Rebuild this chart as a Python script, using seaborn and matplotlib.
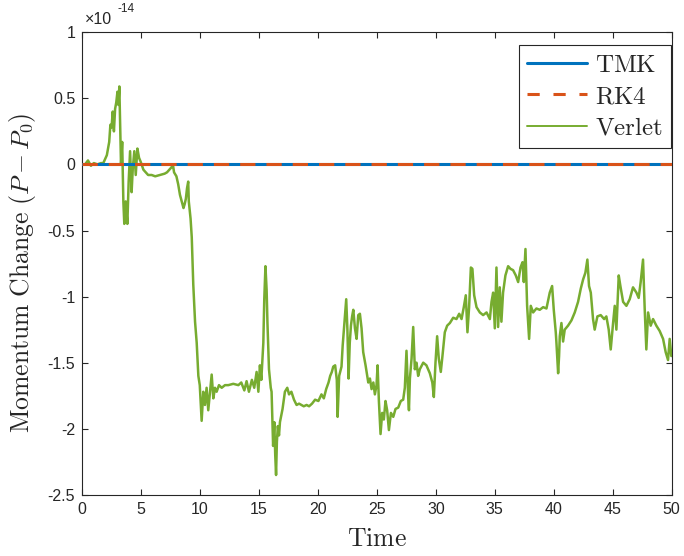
import matplotlib
matplotlib.use("Agg")
import numpy as np
import pandas as pd
import seaborn as sns
import matplotlib.pyplot as plt
from matplotlib.ticker import FuncFormatter
from matplotlib.lines import Line2D

# Momentum drift of three integrators, in units of 1e-14
time_ref = [0.0, 50.0]
tmk = [0.0, 0.0]
rk4 = [0.0, 0.0]

verlet_t = [
    0.0, 0.25, 0.5, 0.75, 1.0, 1.3, 1.6, 1.8, 2.1, 2.3, 2.4, 2.5, 2.6, 2.7, 2.8, 2.9,
    3.0, 3.08, 3.16, 3.2, 3.3, 3.4, 3.5, 3.58, 3.64, 3.7, 3.78, 3.84, 3.95, 4.07, 4.13,
    4.2, 4.3, 4.43, 4.55, 4.69, 4.83, 4.97, 5.2, 5.4, 5.6, 5.9, 6.2, 6.6, 7.0, 7.2, 7.4,
    7.6, 7.7, 7.8, 8.0, 8.15, 8.3, 8.45, 8.6, 8.7, 8.8, 8.9, 9.0, 9.05, 9.2, 9.3, 9.43,
    9.58, 9.72, 9.86, 9.98, 10.14, 10.28, 10.42, 10.56, 10.7, 10.85, 10.99, 11.13, 11.27,
    11.41, 11.61, 11.84, 12.12, 12.4, 12.82, 13.25, 13.5, 13.76, 13.95, 14.15, 14.4, 14.6,
    14.8, 14.95, 15.08, 15.2, 15.37, 15.45, 15.55, 15.65, 15.72, 15.85, 16.0, 16.07, 16.13,
    16.2, 16.3, 16.38, 16.45, 16.52, 16.6, 16.7, 16.78, 17.0, 17.2, 17.4, 17.55, 17.75,
    17.97, 18.19, 18.4, 18.6, 18.8, 19.04, 19.25, 19.5, 19.76, 20.04, 20.3, 20.5, 20.7,
    20.9, 21.04, 21.18, 21.3, 21.46, 21.6, 21.67, 21.8, 22.0, 22.1, 22.25, 22.4, 22.5,
    22.6, 22.7, 22.8, 22.9, 23.0, 23.14, 23.28, 23.42, 23.56, 23.7, 23.84, 24.04, 24.27,
    24.41, 24.55, 24.7, 24.83, 24.97, 25.06, 25.17, 25.31, 25.45, 25.59, 25.73, 25.87,
    26.02, 26.19, 26.39, 26.58, 26.81, 27.03, 27.23, 27.37, 27.51, 27.66, 27.72, 27.8,
    27.94, 28.08, 28.22, 28.36, 28.5, 28.64, 28.93, 29.2, 29.49, 29.7, 29.83, 29.97,
    30.11, 30.25, 30.42, 30.56, 30.7, 30.76, 30.96, 31.19, 31.47, 31.75, 31.98, 32.18,
    32.37, 32.54, 32.68, 32.82, 32.97, 33.1, 33.25, 33.45, 33.73, 34.01, 34.3, 34.58,
    34.72, 34.86, 35.0, 35.14, 35.28, 35.42, 35.56, 35.7, 35.9, 36.13, 36.33, 36.55,
    36.78, 36.98, 37.18, 37.35, 37.46, 37.6, 37.74, 37.91, 38.05, 38.25, 38.53, 38.81,
    39.1, 39.38, 39.66, 39.86, 40.0, 40.17, 40.22, 40.37, 40.45, 40.51, 40.65, 40.79,
    40.93, 41.21, 41.5, 41.78, 42.06, 42.29, 42.49, 42.68, 42.85, 42.99, 43.14, 43.33,
    43.47, 43.7, 43.98, 44.27, 44.46, 44.66, 44.83, 45.03, 45.17, 45.31, 45.51, 45.65,
    45.88, 46.16, 46.44, 46.72, 47.01, 47.2, 47.37, 47.57, 47.71, 47.85, 48.0, 48.22,
    48.42, 48.7, 48.98, 49.27, 49.49, 49.69, 49.83, 49.97,
]
verlet_dp = [
    0.0, 0.0, 0.03, -0.01, 0.01, 0.0, 0.01, 0.01, 0.07, 0.17, 0.30, 0.28, 0.40, 0.25, 0.42, 0.47,
    0.55, 0.45, 0.59, 0.42, 0.0, 0.17, -0.28, -0.45, -0.30, -0.28, -0.38, -0.45, -0.13, 0.10, -0.05,
    -0.21, -0.03, 0.10, -0.08, 0.12, 0.05, 0.02, -0.04, -0.06, -0.08, -0.08, -0.09, -0.08, -0.07, -0.06, -0.04,
    -0.02, 0.0, -0.06, -0.09, -0.15, -0.23, -0.28, -0.33, -0.30, -0.26, -0.18, -0.13, -0.28, -0.41, -0.55, -0.91,
    -1.19, -1.35, -1.60, -1.67, -1.94, -1.72, -1.82, -1.69, -1.86, -1.72, -1.59, -1.77, -1.69,
    -1.72, -1.67, -1.69, -1.67, -1.67, -1.66, -1.67, -1.65, -1.71, -1.64, -1.72, -1.63, -1.69,
    -1.57, -1.72, -1.52, -1.63, -1.35, -1.02, -0.77, -0.95, -1.20, -1.55, -1.69, -1.72, -1.92,
    -2.13, -1.95, -2.20, -2.35, -2.10, -1.98, -2.05, -1.95, -1.85, -1.72, -1.69, -1.74, -1.72,
    -1.78, -1.82, -1.81, -1.82, -1.83, -1.82, -1.83, -1.81, -1.78, -1.79, -1.74, -1.77, -1.70,
    -1.65, -1.60, -1.57, -1.53, -1.52, -1.63, -1.91, -1.60, -1.53, -1.37, -1.20, -1.02, -1.25,
    -1.62, -1.35, -1.22, -1.15, -1.10, -1.24, -1.32, -1.14, -1.13, -1.24, -1.42, -1.52, -1.65,
    -1.62, -1.70, -1.65, -1.74, -1.67, -1.52, -1.79, -2.04, -1.88, -1.93, -1.79, -1.86,
    -2.01, -1.88, -1.91, -1.85, -1.84, -1.79, -1.78, -1.69, -1.41, -1.77, -1.86, -1.62,
    -1.47, -1.23, -1.55, -1.50, -1.60, -1.55, -1.50, -1.52, -1.58, -1.65, -1.76, -1.50,
    -1.30, -1.47, -1.57, -1.45, -1.32, -1.27, -1.22, -1.20, -1.16, -1.17, -1.13, -1.17,
    -1.08, -0.99, -1.27, -1.08, -0.78, -0.79, -0.99, -1.08, -1.12, -1.14, -1.12, -1.17,
    -1.04, -0.97, -1.24, -0.78, -1.23, -0.93, -1.19, -0.97, -0.84, -0.77, -0.79, -0.80,
    -0.84, -0.89, -0.78, -0.74, -0.89, -0.64, -1.07, -1.32, -1.07, -1.12, -1.09, -1.10,
    -1.08, -1.09, -0.97, -0.92, -1.10, -1.27, -1.34, -1.58, -1.45, -1.30, -1.20, -1.34,
    -1.25, -1.22, -1.18, -1.12, -1.04, -0.94, -0.87, -0.82, -0.72, -0.92, -0.97, -1.17,
    -1.25, -1.15, -1.14, -1.17, -1.15, -1.25, -1.40, -1.20, -1.07, -1.25, -0.84, -0.92,
    -1.04, -1.07, -1.02, -0.93, -0.97, -1.01, -0.89, -0.72, -1.09, -1.40, -1.12, -1.22,
    -1.17, -1.22, -1.26, -1.32, -1.42, -1.48, -1.32, -1.45,
]
assert len(verlet_t) == len(verlet_dp)

y_ticks = [1, 0.5, 0, -0.5, -1, -1.5, -2, -2.5]
x_ticks = [0, 5, 10, 15, 20, 25, 30, 35, 40, 45, 50]
series_names = ["TMK", "RK4", "Verlet"]

sns.set_theme(style="ticks")
plt.rcParams['font.family'] = ['Liberation Sans', 'DejaVu Sans']
plt.rcParams['axes.unicode_minus'] = False

c_tmk = '#0072BD'
c_rk4 = '#D95319'
c_ver = '#77AC30'
ink = '#262626'

fig, ax = plt.subplots(figsize=(6.84, 5.56), dpi=100)
fig.subplots_adjust(left=0.120, right=0.982, bottom=0.110, top=0.942)

verlet = pd.DataFrame({"t": verlet_t, "dp": verlet_dp})
sns.lineplot(data=verlet, x="t", y="dp", ax=ax, color=c_ver, lw=1.8,
             estimator=None, sort=False, zorder=2)
sns.lineplot(x=time_ref, y=tmk, ax=ax, color=c_tmk, lw=2.2, zorder=3)
sns.lineplot(x=time_ref, y=rk4, ax=ax, color=c_rk4, lw=2.2, zorder=4,
             linestyle=(0, (5.0, 3.6)))

ax.set_xlim(0, 50)
ax.set_ylim(-2.5, 1)
ax.set_xticks(x_ticks)
ax.set_yticks(y_ticks)
ax.yaxis.set_major_formatter(FuncFormatter(lambda v, p: f"{v:g}"))
ax.xaxis.set_major_formatter(FuncFormatter(lambda v, p: f"{v:g}"))

for s in ax.spines.values():
    s.set_visible(True)
    s.set_color(ink)
    s.set_linewidth(0.8)
ax.tick_params(direction='in', length=4.5, width=0.8, color=ink,
               labelsize=11.5, labelcolor=ink, top=True, right=True, pad=5)
ax.grid(False)

ax.set_xlabel(r"$\mathrm{Time}$", fontsize=18.5, math_fontfamily='cm',
              color=ink, labelpad=7)
ax.set_ylabel(r"$\mathrm{Momentum\ Change}\ (P - P_0)$", fontsize=18.5,
              math_fontfamily='cm', color=ink, labelpad=4)
ax.yaxis.set_label_coords(-0.075, 0.48)

# Exponent multiplier at the top of the y axis
ax.text(0.004, 1.012, "×10", transform=ax.transAxes, fontsize=11.5,
        color=ink, ha='left', va='bottom')
ax.text(0.060, 1.037, "-14", transform=ax.transAxes, fontsize=8.5,
        color=ink, ha='left', va='bottom')

handles = [
    Line2D([], [], color=c_tmk, lw=2.2),
    Line2D([], [], color=c_rk4, lw=2.2, linestyle=(0, (4.0, 4.5))),
    Line2D([], [], color=c_ver, lw=1.4),
]
labels = [rf"$\mathrm{{{n}}}$" for n in series_names]
leg = ax.legend(handles, labels, loc='upper right', bbox_to_anchor=(0.998, 0.973),
                fontsize=18, frameon=True, fancybox=False, framealpha=1,
                edgecolor=ink, handlelength=2.4, handletextpad=0.3,
                borderpad=0.32, labelspacing=0.3, borderaxespad=0.0)
leg.get_frame().set_linewidth(0.8)
for t in leg.get_texts():
    t.set_math_fontfamily('cm')
    t.set_color(ink)

fig.savefig("out.png", dpi=100)
